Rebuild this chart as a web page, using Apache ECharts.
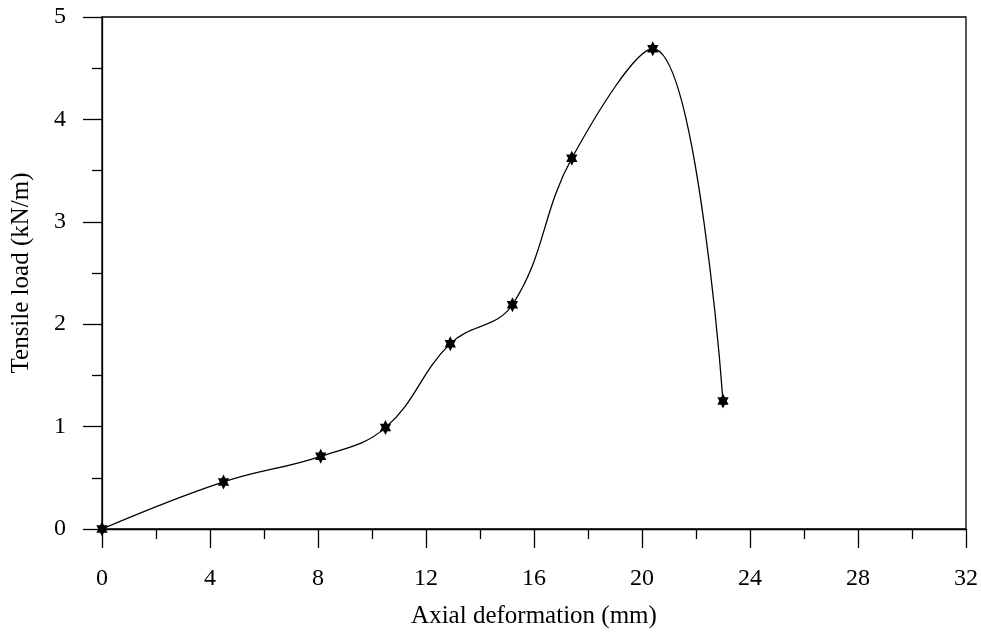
<!DOCTYPE html>
<html>
<head>
<meta charset="utf-8">
<script src="https://cdn.jsdelivr.net/npm/echarts@6/dist/echarts.min.js"></script>
<style>
  html, body { margin: 0; padding: 0; background: #fff; }
  #chart { width: 981px; height: 632px; }
</style>
</head>
<body>
<div id="chart"></div>
<script>
// Tensile load vs axial deformation
const deformation = [0, 4.5, 8.1, 10.5, 12.9, 15.2, 17.4, 20.4, 23.0];
const load = [0, 0.46, 0.71, 0.99, 1.81, 2.19, 3.62, 4.69, 1.25];
const xTicks = [0, 4, 8, 12, 16, 20, 24, 28, 32];
const yTicks = [0, 1, 2, 3, 4, 5];

const FONT = '"Liberation Serif", "DejaVu Serif", serif';
// six-pointed star marker
const STAR = 'path://M0,-10 L2.887,-5 L8.66,-5 L5.774,0 L8.66,5 L2.887,5 L0,10 L-2.887,5 L-8.66,5 L-5.774,0 L-8.66,-5 L-2.887,-5 Z';

const chart = echarts.init(document.getElementById('chart'), null, { renderer: 'canvas' });

const axisCommon = {
  axisLine: { show: true, onZero: false, lineStyle: { color: '#000', width: 1.3 } },
  axisTick: { show: true, inside: false, length: 19, lineStyle: { color: '#000', width: 1.3 } },
  minorTick: { show: true, splitNumber: 2, length: 10, lineStyle: { color: '#000', width: 1.3 } },
  splitLine: { show: false },
  minorSplitLine: { show: false },
  axisLabel: { color: '#000', fontFamily: FONT, fontSize: 24 },
  nameTextStyle: { color: '#000', fontFamily: FONT, fontSize: 25 }
};

chart.setOption({
  animation: false,
  backgroundColor: '#fff',
  grid: {
    left: 102, right: 15, top: 17, bottom: 103,
    outerBoundsMode: 'none',
    containLabel: false,
    show: true, borderColor: '#000', borderWidth: 1.3, backgroundColor: 'transparent'
  },
  xAxis: Object.assign({}, axisCommon, {
    type: 'value',
    min: xTicks[0], max: xTicks[xTicks.length - 1], interval: 4,
    name: 'Axial deformation (mm)',
    nameLocation: 'middle', nameGap: 75,
    axisLabel: Object.assign({}, axisCommon.axisLabel, { margin: 38 })
  }),
  yAxis: Object.assign({}, axisCommon, {
    type: 'value',
    min: yTicks[0], max: yTicks[yTicks.length - 1], interval: 1,
    name: 'Tensile load (kN/m)',
    nameLocation: 'middle', nameGap: 68, nameRotate: 90,
    axisLabel: Object.assign({}, axisCommon.axisLabel, { margin: 36 })
  }),
  series: [{
    type: 'line',
    data: deformation.map((d, i) => [d, load[i]]),
    smooth: 0.4,
    symbol: STAR,
    symbolSize: [13, 15],
    symbolKeepAspect: true,
    showAllSymbol: true,
    lineStyle: { color: '#000', width: 1.3 },
    itemStyle: { color: '#000', borderWidth: 0 },
    z: 3
  }]
});
</script>
</body>
</html>
